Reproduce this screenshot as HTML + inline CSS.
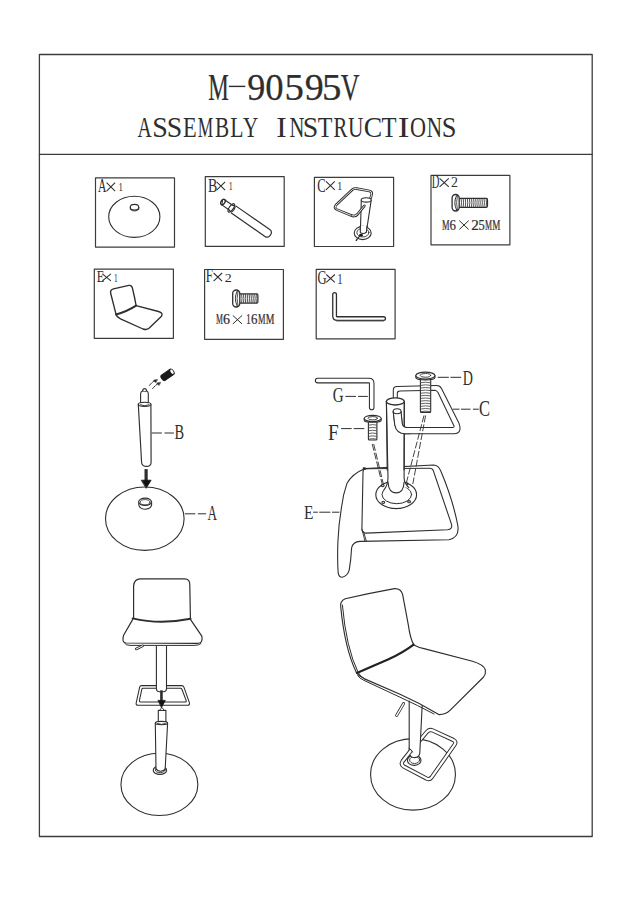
<!DOCTYPE html><html><head><meta charset="utf-8"><style>html,body{margin:0;padding:0;background:#fff;width:636px;height:900px;overflow:hidden}svg{display:block}text{font-family:"Liberation Serif",serif}</style></head><body>
<svg width="636" height="900" viewBox="0 0 636 900" fill="none" stroke="#2e2e2e" stroke-linecap="round" stroke-linejoin="round">
<rect x="0" y="0" width="636" height="900" fill="#fff" stroke="none"/>
<g stroke-width="1.3" stroke="#3c3c3c"><rect x="39.4" y="54.5" width="552.8" height="782"/><line x1="39.4" y1="154.4" x2="592.2" y2="154.4"/></g>
<g stroke="none">
<text transform="translate(208.93 99.70) scale(0.599 1)" x="-1.11" font-size="38.64" fill="#2e2e2e" stroke="#2e2e2e" stroke-width="0.25">M</text>
<text transform="translate(248.53 99.70) scale(0.937 1)" x="-1.25" font-size="38.64" fill="#2e2e2e" stroke="#2e2e2e" stroke-width="0.25">9</text>
<text transform="translate(266.73 99.70) scale(0.950 1)" x="-1.47" font-size="38.64" fill="#2e2e2e" stroke="#2e2e2e" stroke-width="0.25">0</text>
<text transform="translate(286.73 99.70) scale(1.005 1)" x="-2.25" font-size="38.64" fill="#2e2e2e" stroke="#2e2e2e" stroke-width="0.25">5</text>
<text transform="translate(305.93 99.70) scale(0.985 1)" x="-1.25" font-size="38.64" fill="#2e2e2e" stroke="#2e2e2e" stroke-width="0.25">9</text>
<text transform="translate(324.32 99.70) scale(1.005 1)" x="-2.25" font-size="38.64" fill="#2e2e2e" stroke="#2e2e2e" stroke-width="0.25">5</text>
<text transform="translate(340.93 99.70) scale(0.675 1)" x="-0.43" font-size="38.64" fill="#2e2e2e" stroke="#2e2e2e" stroke-width="0.25">V</text>
<rect x="228.9" y="85.7" width="16.4" height="1.4" fill="#2e2e2e"/>
<text transform="translate(137.80 136.60) scale(0.654 1)" x="-0.29" font-size="29.93" fill="#2e2e2e" stroke="none">A</text>
<text transform="translate(154.10 136.60) scale(0.938 1)" x="-2.00" font-size="29.93" fill="#2e2e2e" stroke="none">S</text>
<text transform="translate(168.60 136.60) scale(0.930 1)" x="-2.00" font-size="29.93" fill="#2e2e2e" stroke="none">S</text>
<text transform="translate(183.70 136.60) scale(0.747 1)" x="-0.86" font-size="29.93" fill="#2e2e2e" stroke="none">E</text>
<text transform="translate(198.20 136.60) scale(0.579 1)" x="-0.86" font-size="29.93" fill="#2e2e2e" stroke="none">M</text>
<text transform="translate(215.70 136.60) scale(0.709 1)" x="-0.86" font-size="29.93" fill="#2e2e2e" stroke="none">B</text>
<text transform="translate(230.80 136.60) scale(0.723 1)" x="-0.86" font-size="29.93" fill="#2e2e2e" stroke="none">L</text>
<text transform="translate(243.30 136.60) scale(0.707 1)" x="-0.34" font-size="29.93" fill="#2e2e2e" stroke="none">Y</text>
<text transform="translate(277.30 136.60) scale(1.047 1)" x="-1.08" font-size="29.93" fill="#2e2e2e" stroke="none">I</text>
<text transform="translate(290.00 136.60) scale(0.688 1)" x="-0.86" font-size="29.93" fill="#2e2e2e" stroke="none">N</text>
<text transform="translate(304.50 136.60) scale(0.930 1)" x="-2.00" font-size="29.93" fill="#2e2e2e" stroke="none">S</text>
<text transform="translate(318.30 136.60) scale(0.800 1)" x="-0.54" font-size="29.93" fill="#2e2e2e" stroke="none">T</text>
<text transform="translate(334.00 136.60) scale(0.693 1)" x="-0.86" font-size="29.93" fill="#2e2e2e" stroke="none">R</text>
<text transform="translate(348.50 136.60) scale(0.712 1)" x="-0.63" font-size="29.93" fill="#2e2e2e" stroke="none">U</text>
<text transform="translate(364.80 136.60) scale(0.925 1)" x="-1.23" font-size="29.93" fill="#2e2e2e" stroke="none">C</text>
<text transform="translate(382.00 136.60) scale(0.823 1)" x="-0.54" font-size="29.93" fill="#2e2e2e" stroke="none">T</text>
<text transform="translate(399.00 136.60) scale(1.174 1)" x="-1.08" font-size="29.93" fill="#2e2e2e" stroke="none">I</text>
<text transform="translate(411.00 136.60) scale(0.741 1)" x="-1.23" font-size="29.93" fill="#2e2e2e" stroke="none">O</text>
<text transform="translate(427.30 136.60) scale(0.708 1)" x="-0.86" font-size="29.93" fill="#2e2e2e" stroke="none">N</text>
<text transform="translate(443.60 136.60) scale(0.884 1)" x="-2.00" font-size="29.93" fill="#2e2e2e" stroke="none">S</text>
</g>
<g stroke-width="1.2" stroke="#3c3c3c">
<rect x="95.5" y="177.9" width="79.0" height="69.2"/>
<rect x="205.3" y="176.6" width="78.9" height="69.8"/>
<rect x="314.4" y="177.4" width="79.2" height="69.1"/>
<rect x="431.0" y="175.4" width="78.9" height="69.4"/>
<rect x="94.3" y="269.2" width="79.1" height="69.1"/>
<rect x="204.6" y="269.5" width="78.8" height="69.8"/>
<rect x="316.2" y="269.4" width="78.9" height="69.4"/>
</g>
<text transform="translate(98.10 192.00) scale(0.645 1)" x="-0.18" font-size="18.03" fill="#2e2e2e" stroke="none">A</text>
<path d="M106.6 182.6L115.1 191.1M115.1 182.6L106.6 191.1" stroke-width="1.05" stroke-linecap="butt"/>
<text transform="translate(119.20 191.40) scale(0.684 1)" x="-1.13" font-size="12.88" fill="#2e2e2e" stroke="none">1</text>
<text transform="translate(208.40 191.65) scale(0.763 1)" x="-0.53" font-size="18.24" fill="#2e2e2e" stroke="none">B</text>
<path d="M216.6 181.9L225.1 190.1M225.1 181.9L216.6 190.1" stroke-width="1.05" stroke-linecap="butt"/>
<text transform="translate(229.50 190.40) scale(0.618 1)" x="-1.13" font-size="12.88" fill="#2e2e2e" stroke="none">1</text>
<text transform="translate(317.80 191.52) scale(0.667 1)" x="-0.78" font-size="18.90" fill="#2e2e2e" stroke="none">C</text>
<path d="M326.0 181.3L334.8 189.8M334.8 181.3L326.0 189.8" stroke-width="1.05" stroke-linecap="butt"/>
<text transform="translate(338.20 190.40) scale(0.746 1)" x="-1.17" font-size="13.33" fill="#2e2e2e" stroke="none">1</text>
<text transform="translate(432.10 187.96) scale(0.569 1)" x="-0.54" font-size="18.58" fill="#2e2e2e" stroke="none">D</text>
<path d="M439.6 178.3L448.8 186.8M448.8 178.3L439.6 186.8" stroke-width="1.05" stroke-linecap="butt"/>
<text transform="translate(451.60 187.40) scale(1.016 1)" x="-0.60" font-size="13.74" fill="#2e2e2e" stroke="none">2</text>
<text transform="translate(97.00 281.80) scale(0.759 1)" x="-0.47" font-size="16.34" fill="#2e2e2e" stroke="none">E</text>
<path d="M102.4 273.9L110.9 280.8M110.9 273.9L102.4 280.8" stroke-width="1.05" stroke-linecap="butt"/>
<text transform="translate(114.60 281.80) scale(0.617 1)" x="-1.05" font-size="11.97" fill="#2e2e2e" stroke="none">1</text>
<text transform="translate(206.10 282.40) scale(0.651 1)" x="-0.57" font-size="19.70" fill="#2e2e2e" stroke="none">F</text>
<path d="M213.6 273.0L222.1 281.2M222.1 273.0L213.6 281.2" stroke-width="1.05" stroke-linecap="butt"/>
<text transform="translate(225.30 281.80) scale(1.051 1)" x="-0.58" font-size="13.29" fill="#2e2e2e" stroke="none">2</text>
<text transform="translate(318.10 283.82) scale(0.673 1)" x="-0.77" font-size="18.75" fill="#2e2e2e" stroke="none">G</text>
<path d="M326.3 274.5L334.8 282.4M334.8 274.5L326.3 282.4" stroke-width="1.05" stroke-linecap="butt"/>
<text transform="translate(338.20 283.70) scale(0.775 1)" x="-1.22" font-size="13.94" fill="#2e2e2e" stroke="none">1</text>
<ellipse cx="134.3" cy="216.8" rx="25.6" ry="20.6" stroke-width="1.1"/>
<path d="M130.3 207.2V209.3Q134.5 212.6 138.8 209.3V207.2" stroke-width="1"/>
<ellipse cx="134.5" cy="207.2" rx="4.2" ry="2.8" stroke-width="1.1"/>
<g transform="translate(221.8 201.3) rotate(34.8)">
<path d="M14.5 -4.2H55.5Q59.2 -4.2 59.2 0Q59.2 4.2 55.5 4.2H14.5" stroke-width="1.15"/>
<path d="M2.2 -2.9H11.5M1.6 2.9H11.5" stroke-width="1.1"/>
<path d="M11.5 -3Q14.8 -5 14.8 0Q14.8 5 11.5 3" stroke-width="1.1"/>
<ellipse cx="11.6" cy="0" rx="2" ry="4.9" stroke-width="1.2"/>
<ellipse cx="1.4" cy="0" rx="1.9" ry="3" stroke-width="1.4"/>
<path d="M-0.2 -1.6L1.8 2" stroke-width="1"/>
</g>
<path d="M357 214.8Q355.2 216.6 352 215.8L337 209.6Q333.5 208 336 205L352.5 189.5Q354 188.2 356.5 188.6L369.5 191Q372.3 191.6 371.7 194.4L370.6 198" stroke="#2e2e2e" stroke-width="2.6" stroke-linecap="round" />
<path d="M357 214.8Q355.2 216.6 352 215.8L337 209.6Q333.5 208 336 205L352.5 189.5Q354 188.2 356.5 188.6L369.5 191Q372.3 191.6 371.7 194.4L370.6 198" stroke="#fff" stroke-width="0.90" stroke-linecap="round" />
<path d="M361.3 200.2L360.4 230.5Q363.5 233 366.6 230.5L371.2 200.2Z" stroke-width="1.1" fill="#fff"/>
<ellipse cx="362.7" cy="233" rx="8.5" ry="6.6" stroke-width="1.1" fill="#fff"/>
<ellipse cx="362.9" cy="232.6" rx="6" ry="4.4" stroke-width="0.9"/>
<path d="M360.4 226L360.2 232.8Q363.3 235 366.4 232.2L366.9 226" fill="#fff" stroke="none"/>
<path d="M360.4 226L360.3 232.6Q363.4 234.6 366.4 232.2L366.9 226" stroke-width="1.1"/>
<ellipse cx="366.2" cy="199.9" rx="5" ry="2.2" stroke-width="1.1" fill="#fff"/>
<path d="M364.4 205.8L357 214.8Q355.2 216.6 352 215.8" stroke="#2e2e2e" stroke-width="2.6" stroke-linecap="round" />
<path d="M364.4 205.8L357 214.8Q355.2 216.6 352 215.8" stroke="#fff" stroke-width="0.90" stroke-linecap="round" />
<ellipse cx="361" cy="235.2" rx="1.9" ry="1.4" fill="#1a1a1a" stroke="none"/>
<path d="M359.6 236.2L356.4 240.2" stroke-width="1.2"/>
<circle cx="356.4" cy="240.2" r="0.8" fill="#1a1a1a" stroke="none"/>
<path d="M459.20 198.30H486.50Q487.50 198.30 487.50 199.80V205.80Q487.50 207.30 486.50 207.30H459.20" stroke-width="1.2"/>
<path d="M461.14 198.90Q461.94 202.80 461.14 206.70M463.23 198.90Q464.03 202.80 463.23 206.70M465.31 198.90Q466.11 202.80 465.31 206.70M467.40 198.90Q468.20 202.80 467.40 206.70M469.48 198.90Q470.28 202.80 469.48 206.70M471.57 198.90Q472.37 202.80 471.57 206.70M473.65 198.90Q474.45 202.80 473.65 206.70M475.73 198.90Q476.53 202.80 475.73 206.70M477.82 198.90Q478.62 202.80 477.82 206.70M479.90 198.90Q480.70 202.80 479.90 206.70M481.99 198.90Q482.79 202.80 481.99 206.70M484.07 198.90Q484.87 202.80 484.07 206.70M486.16 198.90Q486.96 202.80 486.16 206.70" stroke-width="0.9" stroke="#3a3a3a"/>
<rect x="452.10" y="194.50" width="7.10" height="16.50" rx="3.55" ry="3.38" fill="#fff" stroke-width="1.3"/>
<path d="M456.50 195.70Q453.00 202.75 456.50 209.80" stroke-width="1"/>
<path d="M457.43 195.50Q455.65 202.75 457.43 210.00" stroke-width="0.8"/>
<text transform="translate(442.30 229.90) scale(0.581 1)" x="-0.42" font-size="14.51" fill="#2e2e2e" stroke="#2e2e2e" stroke-width="0.2">M</text>
<text transform="translate(450.00 229.90) scale(0.887 1)" x="-0.62" font-size="14.51" fill="#2e2e2e" stroke="#2e2e2e" stroke-width="0.2">6</text>
<text transform="translate(471.80 229.90) scale(1.049 1)" x="-0.64" font-size="14.51" fill="#2e2e2e" stroke="#2e2e2e" stroke-width="0.2">2</text>
<text transform="translate(479.10 229.90) scale(0.856 1)" x="-0.84" font-size="14.51" fill="#2e2e2e" stroke="#2e2e2e" stroke-width="0.2">5</text>
<text transform="translate(485.30 229.90) scale(0.547 1)" x="-0.42" font-size="14.51" fill="#2e2e2e" stroke="#2e2e2e" stroke-width="0.2">M</text>
<text transform="translate(492.60 229.90) scale(0.630 1)" x="-0.42" font-size="14.51" fill="#2e2e2e" stroke="#2e2e2e" stroke-width="0.2">M</text>
<path d="M459.6 220.9L468.4 229.2M468.4 220.9L459.6 229.2" stroke-width="1"/>
<g stroke-width="1.35">
<path d="M136.1 305.6L158.5 311.5Q163.5 313 161.5 316.2L149 328.3Q146.5 330.2 143 329L120.5 318.8Q116.6 317.2 116 314.2L110.6 293Q110 289.6 113.5 288.8L128.8 285.4Q131.6 285 132.4 288Q134.6 297 136.1 305.6Z"/>
<path d="M116 314.5Q127 311.5 136.1 305.6" stroke-width="1.9"/>
</g>
<path d="M239.80 293.80H256.90Q257.90 293.80 257.90 295.30V301.70Q257.90 303.20 256.90 303.20H239.80" stroke-width="1.2"/>
<path d="M241.64 294.40Q242.44 298.50 241.64 302.60M243.52 294.40Q244.32 298.50 243.52 302.60M245.39 294.40Q246.19 298.50 245.39 302.60M247.27 294.40Q248.07 298.50 247.27 302.60M249.15 294.40Q249.95 298.50 249.15 302.60M251.03 294.40Q251.83 298.50 251.03 302.60M252.91 294.40Q253.71 298.50 252.91 302.60M254.78 294.40Q255.58 298.50 254.78 302.60M256.66 294.40Q257.46 298.50 256.66 302.60" stroke-width="0.9" stroke="#3a3a3a"/>
<rect x="232.70" y="290.00" width="7.10" height="17.00" rx="3.55" ry="3.38" fill="#fff" stroke-width="1.3"/>
<path d="M237.10 291.20Q233.60 298.50 237.10 305.80" stroke-width="1"/>
<path d="M238.03 291.00Q236.25 298.50 238.03 306.00" stroke-width="0.8"/>
<text transform="translate(216.30 324.40) scale(0.533 1)" x="-0.42" font-size="14.66" fill="#2e2e2e" stroke="#2e2e2e" stroke-width="0.2">M</text>
<text transform="translate(223.50 324.40) scale(0.958 1)" x="-0.63" font-size="14.66" fill="#2e2e2e" stroke="#2e2e2e" stroke-width="0.2">6</text>
<text transform="translate(246.90 324.40) scale(0.659 1)" x="-1.29" font-size="14.66" fill="#2e2e2e" stroke="#2e2e2e" stroke-width="0.2">1</text>
<text transform="translate(251.50 324.40) scale(0.878 1)" x="-0.63" font-size="14.66" fill="#2e2e2e" stroke="#2e2e2e" stroke-width="0.2">6</text>
<text transform="translate(258.30 324.40) scale(0.575 1)" x="-0.42" font-size="14.66" fill="#2e2e2e" stroke="#2e2e2e" stroke-width="0.2">M</text>
<text transform="translate(266.10 324.40) scale(0.665 1)" x="-0.42" font-size="14.66" fill="#2e2e2e" stroke="#2e2e2e" stroke-width="0.2">M</text>
<path d="M233.1 315.7L241.8 323.7M241.8 315.7L233.1 323.7" stroke-width="1"/>
<path d="M334.6 294.4V316.2Q334.6 318.6 337.6 318.6H383.6" stroke="#2e2e2e" stroke-width="5.0" stroke-linecap="round" />
<path d="M334.6 294.4V316.2Q334.6 318.6 337.6 318.6H383.6" stroke="#fff" stroke-width="2.40" stroke-linecap="round" />
<path d="M336.6 321H383.6" stroke-width="0.9" stroke="#555"/>
<g transform="translate(163.3 377.8) rotate(-35)">
<path d="M0 -3.2H10.5A1.6 3.2 0 0 1 10.5 3.2H0A1.8 3.2 0 0 1 0 -3.2Z" fill="#1a1a1a" stroke="#1a1a1a" stroke-width="1"/>
<ellipse cx="10.6" cy="0" rx="1.3" ry="2.4" fill="#fff" stroke="none"/>
</g>
<path d="M149.5 385.4Q152 382 155 380.6" stroke-width="1" stroke-dasharray="3 1.3"/>
<path d="M152.6 388.6Q155.5 385 158.5 383.4" stroke-width="1" stroke-dasharray="3 1.3"/>
<path d="M157.2 379.6L153.6 380.2L155.6 382.4Z" fill="#222" stroke-width="0.6"/>
<path d="M160.4 382.5L156.8 383.1L158.8 385.3Z" fill="#222" stroke-width="0.6"/>
<path d="M140.6 403.5V393.5Q140.8 391.6 142.6 391V390.4Q143 388.6 144.6 388.6Q146.2 388.6 146.6 390.4V391Q148.2 391.6 148.3 393.5V403.5" stroke-width="1.1" fill="#fff"/>
<path d="M142.6 391Q144.6 392.4 146.6 391" stroke-width="0.9"/>
<path d="M138.3 404.5L141.6 462.5Q142 466.4 146.5 466.4Q151 466.4 151.1 462.5L150.9 404.5" stroke-width="1.15" fill="#fff"/>
<ellipse cx="144.6" cy="404.3" rx="6.4" ry="2.1" stroke-width="1.1" fill="#fff"/>
<path d="M140.2 404.8Q144.6 407 149 404.8" stroke-width="0.9"/>
<path d="M151.7 433.0H173.9" stroke-width="1.0" stroke-dasharray="10.2 2.6" stroke-linecap="butt"/>
<text transform="translate(174.80 438.60) scale(0.705 1)" x="-0.59" font-size="20.46" fill="#2e2e2e" stroke="none">B</text>
<path d="M146.1 469.1V481" stroke-width="3.2" stroke-linecap="butt"/>
<path d="M141.6 480.2H151.1L146.3 488Z" fill="#111" stroke="#111" stroke-width="0.8"/>
<ellipse cx="144.8" cy="518.7" rx="39.3" ry="31.7" stroke-width="1.1"/>
<path d="M138.8 501.8V505.2Q140 509.2 145.1 509.2Q150.6 509.2 151.6 505.2V501.8" stroke-width="1.1"/>
<ellipse cx="145.1" cy="501.8" rx="6.4" ry="3.7" stroke-width="1.1" fill="#fff"/>
<ellipse cx="145.1" cy="502.2" rx="4.8" ry="2.6" stroke-width="0.8"/>
<path d="M184.9 513.8H206.1" stroke-width="1.0" stroke-dasharray="10.5 2.5" stroke-linecap="butt"/>
<text transform="translate(207.70 520.30) scale(0.626 1)" x="-0.21" font-size="21.08" fill="#2e2e2e" stroke="none">A</text>
<path d="M365 468.6Q352 474 346.9 483.6Q342.8 495 341.4 508Q338.6 525 337.9 541.8Q337.2 560 338.2 573.2Q339 577.4 342.2 577.3Q347.4 576 349.2 570.1Q351 560 351.6 548Q352.8 541.8 360 541.4L448.9 539.7Q459.4 537.6 457.9 526Q453 500 441 471.5Q438.6 465 433.5 465L365 468.6" stroke-width="1.1" fill="#fff"/>
<path d="M363 471.5V473L361.9 529Q361.9 533.3 366 533.1L447.5 529.8Q452.6 529 451.6 524.6L433.3 470.6Q432.4 468.2 429.7 468.2L366 468.8Q363.2 469.2 363 471.5Z" stroke-width="1.1"/>
<path d="M362 529.2L365 541.4M363.6 531.5L366.4 541.4" stroke-width="0.9"/>
<path d="M363.6 468.2L365.5 468.6" stroke-width="2"/>
<ellipse cx="396.2" cy="494.8" rx="20.4" ry="13.8" stroke-width="1.1" fill="#fff"/>
<ellipse cx="396.8" cy="494.5" rx="14.8" ry="9.2" stroke-width="1.0"/>
<ellipse cx="382.7" cy="485.6" rx="1.4" ry="1.1" stroke-width="1.1"/>
<ellipse cx="406.6" cy="483.8" rx="1.4" ry="1.1" stroke-width="1.1"/>
<ellipse cx="383.3" cy="502.3" rx="1.4" ry="1.1" stroke-width="1.1"/>
<ellipse cx="409.1" cy="501.7" rx="1.4" ry="1.1" stroke-width="1.1"/>
<path d="M386.4 401.3L388 478Q387.8 485.5 383.8 490Q396 487.6 408.8 487.6Q404.4 483.5 404.1 478L404.3 401.3Z" stroke="none" fill="#fff"/>
<path d="M386.4 401.3L388 478Q387.8 485.5 383.8 490M404.3 401.3L404.1 478Q404.4 483.5 408.8 487.6" stroke-width="1.1"/>
<path d="M388 482Q388.6 492.9 396.2 492.9Q403.6 492.9 404.1 482" stroke-width="1.1"/>
<path d="M393.3 401V390Q393.3 386.5 397 386.4L436.5 385.6Q440 385.5 441.5 388.5L459 423.3Q462.5 433.5 454 433.7L405 433.8Q396.5 433.4 394.8 425L393.2 411.5" stroke-width="1.05"/>
<path d="M397.3 401V393.2Q397.3 391.1 399.5 391.1L434.5 390.3Q436.8 390.3 438 392.6L453.9 425.7Q454.8 427.5 452.5 427.5L407 427.5Q402.8 427.4 402.2 423.5L401 411.5" stroke-width="1.05"/>
<path d="M386.4 401.3L387.2 470M404.3 401.3L404.1 470" stroke-width="1.1"/>
<ellipse cx="395.3" cy="401.4" rx="8.95" ry="3.6" stroke-width="1.35" fill="#fff"/>
<path d="M393.2 411.5L394.8 425Q396.5 433.4 405 433.8L410 433.8L410 427.5L407 427.5Q402.8 427.4 402.2 423.5L401 411.5Z" fill="#fff" stroke="none"/>
<path d="M393.2 411.5L394.8 425Q396.5 433.4 405 433.8L410 433.8M410 427.5L407 427.5Q402.8 427.4 402.2 423.5L401 411.5" stroke-width="1.05"/>
<ellipse cx="397.1" cy="411.2" rx="3.9" ry="2.5" stroke-width="1.05" fill="#fff"/>
<g stroke-width="0.9" stroke-dasharray="7 2" stroke-linecap="butt">
<path d="M372.2 444L382.3 484.5M373.7 444L383.5 484.5"/>
<path d="M424 415.5L406.4 482.6M425.6 415.5L412.8 484"/>
</g>
<path d="M420.4 379.9V411.4Q420.4 412.4 421.4 412.4H429.7Q430.7 412.4 430.7 411.4V379.9" stroke-width="1.1" fill="#fff"/>
<path d="M420.80 382.71Q425.55 381.61 430.30 382.71M420.80 385.34Q425.55 384.24 430.30 385.34M420.80 387.96Q425.55 386.86 430.30 387.96M420.80 390.59Q425.55 389.49 430.30 390.59M420.80 393.21Q425.55 392.11 430.30 393.21M420.80 395.84Q425.55 394.74 430.30 395.84M420.80 398.46Q425.55 397.36 430.30 398.46M420.80 401.09Q425.55 399.99 430.30 401.09M420.80 403.71Q425.55 402.61 430.30 403.71M420.80 406.34Q425.55 405.24 430.30 406.34M420.80 408.96Q425.55 407.86 430.30 408.96M420.80 411.59Q425.55 410.49 430.30 411.59" stroke-width="0.85" stroke="#444"/>
<path d="M415.8 375.61V377.56Q415.8 379.9 425.4 379.9Q435.0 379.9 435.0 377.56V375.61" stroke-width="1.1" fill="#fff"/>
<ellipse cx="425.4" cy="375.61" rx="9.599999999999994" ry="3.50999999999998" stroke-width="1.1" fill="#fff"/>
<ellipse cx="425.4" cy="375.376" rx="5.279999999999998" ry="1.871999999999989" stroke-width="0.9"/>
<path d="M368.4 422.2V439.0Q368.4 440.0 369.4 440.0H375.9Q376.9 440.0 376.9 439.0V422.2" stroke-width="1.1" fill="#fff"/>
<path d="M368.80 425.10Q372.65 424.00 376.50 425.10M368.80 427.90Q372.65 426.80 376.50 427.90M368.80 430.70Q372.65 429.60 376.50 430.70M368.80 433.50Q372.65 432.40 376.50 433.50M368.80 436.30Q372.65 435.20 376.50 436.30M368.80 439.10Q372.65 438.00 376.50 439.10" stroke-width="0.85" stroke="#444"/>
<path d="M364.2 418.46V420.15999999999997Q364.2 422.2 372.7 422.2Q381.2 422.2 381.2 420.15999999999997V418.46" stroke-width="1.1" fill="#fff"/>
<ellipse cx="372.7" cy="418.46" rx="8.5" ry="3.0600000000000054" stroke-width="1.1" fill="#fff"/>
<ellipse cx="372.7" cy="418.256" rx="4.675000000000001" ry="1.6320000000000026" stroke-width="0.9"/>
<path d="M317.6 380.6H369Q371.7 380.6 371.7 383.4V407.4" stroke="#2e2e2e" stroke-width="5.6" stroke-linecap="round" />
<path d="M317.6 380.6H369Q371.7 380.6 371.7 383.4V407.4" stroke="#fff" stroke-width="3.50" stroke-linecap="round" />
<g stroke-width="1" stroke-linecap="butt">
<path d="M345.4 396.4H356M358 396.4H367.8"/>
<path d="M341.1 428.6H351.7M353.7 428.6H364.3"/>
<path d="M437.7 377.3H448.9M450.4 377.3H461.2"/>
<path d="M452.9 409.2H459.5M461.1 409.2H470.5M472.9 409.2H478.8"/>
<path d="M313.1 512.2H317.8M319.2 512.2H330.4M332 512.2H339.4"/>
</g>
<text transform="translate(333.30 402.49) scale(0.694 1)" x="-0.89" font-size="21.73" fill="#2e2e2e" stroke="none">G</text>
<text transform="translate(328.50 440.00) scale(0.873 1)" x="-0.64" font-size="22.14" fill="#2e2e2e" stroke="none">F</text>
<text transform="translate(463.20 384.90) scale(0.668 1)" x="-0.61" font-size="21.08" fill="#2e2e2e" stroke="none">D</text>
<text transform="translate(479.60 415.78) scale(0.738 1)" x="-0.92" font-size="22.33" fill="#2e2e2e" stroke="none">C</text>
<text transform="translate(304.40 519.00) scale(0.801 1)" x="-0.55" font-size="19.24" fill="#2e2e2e" stroke="none">E</text>
<ellipse cx="159.4" cy="784.4" rx="38.45" ry="31.15" stroke-width="1.1"/>
<ellipse cx="159.9" cy="770.2" rx="6.7" ry="4.2" stroke-width="1.1" fill="#fff"/>
<ellipse cx="160.3" cy="769.8" rx="4.9" ry="2.8" stroke-width="0.9"/>
<path d="M155.3 723.2L156 768.5Q157 771.2 160.6 771.2Q164.2 771.2 165.2 768.5L167.6 723.2" stroke-width="1.1" fill="#fff"/>
<path d="M158.3 723V710.4H165.9V723" stroke-width="1.1" fill="#fff"/>
<path d="M159.8 710.2L161.9 707.4L164 710.2Z" stroke-width="0.9" fill="#fff"/>
<ellipse cx="161.45" cy="723.1" rx="6.15" ry="1.7" stroke-width="1.1" fill="#fff"/>
<path d="M157.6 723.6Q161.5 725.3 165.4 723.6" stroke-width="0.9"/>
<path d="M141.5 685.6H181.6Q183.4 685.6 184 687.4L189.4 702.6Q190 705.3 187.6 705.3H138Q135.6 705.3 136.2 702.8L139.6 687.4Q140 685.6 141.5 685.6Z" stroke-width="1.05"/>
<path d="M143 688.3H180.6Q181.6 688.3 181.9 689.3L186.2 700.6Q186.6 701.9 185.2 701.9H140.6Q139.2 701.9 139.4 700.6L141.8 689.3Q142 688.3 143 688.3Z" stroke-width="1.05"/>
<path d="M156.4 646.3V689Q156.8 691.7 159.5 691.7H163.4Q166.1 691.7 166.5 689V646.3" stroke-width="1.1" fill="#fff"/>
<path d="M161.45 690.3V701" stroke-width="2.6" stroke-linecap="butt"/>
<path d="M158.3 700.4H165.3L161.6 707.3Z" fill="#111" stroke="#111" stroke-width="0.8"/>
<path d="M133.6 618.6V586Q134 579 140.5 578.8H184.5Q190 578.9 189.8 585L190.4 618.8" stroke-width="1.2" fill="#fff"/>
<path d="M132.6 619.6L123.6 635.2Q121.4 642.6 126 643L197.5 643.4Q203.4 643.2 201.8 636.2L190.6 619.6" stroke-width="1.2" fill="#fff"/>
<path d="M132.6 618.4Q160 625 190.6 618.8" stroke-width="1.9"/>
<path d="M124.6 643.3Q126 645.4 130 645.4H194Q199.5 645.4 201 643.6" stroke-width="1.0"/>
<path d="M136.2 649L142.6 645.8" stroke="#2e2e2e" stroke-width="2.6" stroke-linecap="round" />
<path d="M136.2 649L142.6 645.8" stroke="#fff" stroke-width="1.00" stroke-linecap="round" />
<ellipse cx="413" cy="774.4" rx="42.45" ry="35.75" stroke-width="1.1"/>
<ellipse cx="414.2" cy="760.3" rx="6.8" ry="5.1" stroke-width="1.1" fill="#fff"/>
<ellipse cx="414.6" cy="760" rx="5" ry="3.5" stroke-width="0.9"/>
<path d="M407 755.5L427.2 731.6Q429.5 729.2 432.5 730.4L453.4 740Q456.6 741.8 454.6 744.6L431.6 777.4Q429.6 780 426.6 778.6L403.6 766.4Q400.6 764.6 402.6 761.2L407 755.5" stroke="#2e2e2e" stroke-width="4.2" stroke-linecap="round" />
<path d="M407 755.5L427.2 731.6Q429.5 729.2 432.5 730.4L453.4 740Q456.6 741.8 454.6 744.6L431.6 777.4Q429.6 780 426.6 778.6L403.6 766.4Q400.6 764.6 402.6 761.2L407 755.5" stroke="#fff" stroke-width="2.30" stroke-linecap="round" />
<path d="M409.2 701V753Q410 757.6 414.6 757.6Q419.2 757.6 419.8 753L422.4 701" stroke-width="1.1" fill="#fff"/>
<path d="M402.6 761.2L411 750.5" stroke="#2e2e2e" stroke-width="4.2" stroke-linecap="butt" />
<path d="M402.6 761.2L411 750.5" stroke="#fff" stroke-width="2.30" stroke-linecap="butt" />
<path d="M408.9 748.3Q411.8 749.6 412.6 752" stroke-width="1"/>
<path d="M396.6 715.6L403.6 703.6" stroke="#2e2e2e" stroke-width="2.9" stroke-linecap="round" />
<path d="M396.6 715.6L403.6 703.6" stroke="#fff" stroke-width="1.30" stroke-linecap="round" />
<path d="M413.8 644.9Q419 647.6 424 648.6L472.5 661.2Q484 664.6 485.4 670Q486 674 483.6 677L450 710.4Q445.4 714.8 438.8 714.6Q420 703 400 694.2L364 678.6Q358.6 676 356.4 672.6Q344.6 648 340.7 606.5Q339.8 601.4 345.2 598.8Q370 593 394.4 588.6Q400.8 588.2 402.6 594.4L408.4 625.4Q410.2 638.6 413.8 644.9Z" stroke-width="1.15" fill="#fff"/>
<path d="M342.4 605Q346.2 648 358.2 672.6Q360.4 676.6 364.4 678.8" stroke-width="1.0"/>
<path d="M357.6 675.4Q359.6 678.6 363.6 680.2L400 697.2Q418 705.4 434 714" stroke-width="1.0"/>
<path d="M356.9 672.9Q372 666.6 388 659.6Q403 652.6 413.6 644.6" stroke-width="2.2" stroke="#222"/>
</svg></body></html>
